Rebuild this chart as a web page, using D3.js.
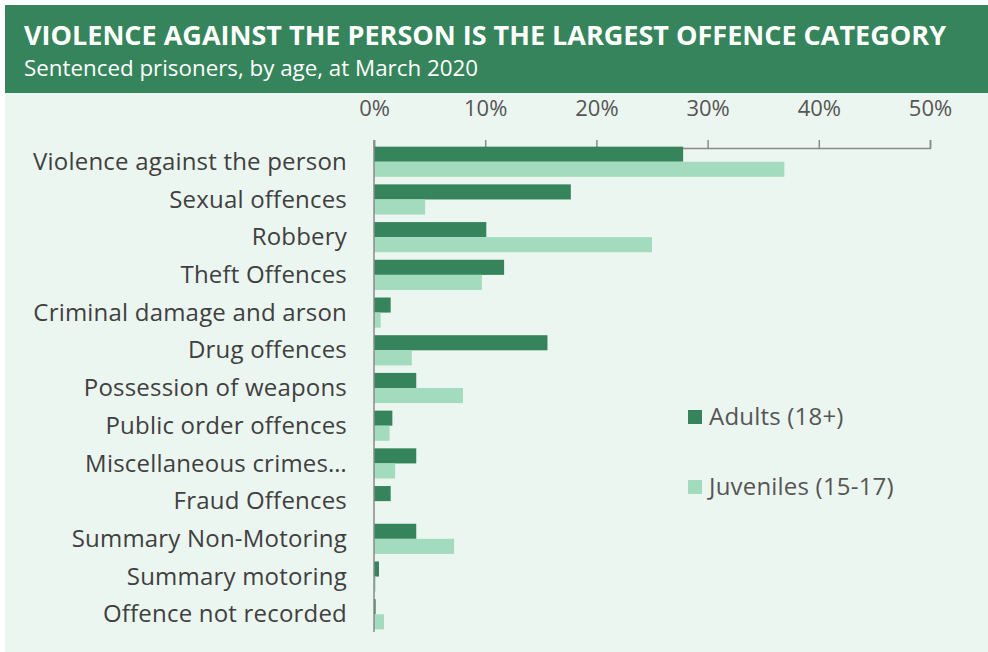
<!DOCTYPE html>
<html><head><meta charset="utf-8">
<script src="https://cdn.jsdelivr.net/npm/d3@7"></script>
<style>body{margin:0;background:#fff;}svg{display:block;}</style>
</head><body>
<svg id="chart" width="988" height="652"></svg>
<script>
const categories = ["Violence against the person","Sexual offences","Robbery","Theft Offences","Criminal damage and arson","Drug offences","Possession of weapons","Public order offences","Miscellaneous crimes…","Fraud Offences","Summary Non-Motoring","Summary motoring","Offence not recorded"];
const adults =    [27.8, 17.7, 10.1, 11.7, 1.5, 15.6, 3.8, 1.65, 3.8, 1.5, 3.8, 0.45, 0.15];
const juveniles = [36.9, 4.6, 25.0, 9.7, 0.6, 3.4, 8.0, 1.4, 1.9, 0.0, 7.2, 0.15, 0.9];
const seriesNames = ["Adults (18+)", "Juveniles (15-17)"];
const tickValues = [0, 10, 20, 30, 40, 50];
const title = "VIOLENCE AGAINST THE PERSON IS THE LARGEST OFFENCE CATEGORY";
const subtitle = "Sentenced prisoners, by age, at March 2020";

const colors = ["#36845B", "#A3DBBF"];
const svg = d3.select("#chart");
const font = "'Open Sans', 'Noto Sans', sans-serif";

svg.append("rect").attr("x",5).attr("y",92).attr("width",983).attr("height",560).attr("fill","#ECF6F0");
svg.append("rect").attr("x",5).attr("y",5).attr("width",983).attr("height",88).attr("fill","#36845B");
svg.append("text").attr("x",24).attr("y",44.5).attr("fill","#fff").attr("font-family",font)
  .attr("font-weight",700).attr("font-size",26).attr("textLength",922).attr("lengthAdjust","spacingAndGlyphs").text(title);
svg.append("text").attr("x",24).attr("y",76).attr("fill","#fff").attr("font-family",font)
  .attr("font-size",21).attr("textLength",454).attr("lengthAdjust","spacingAndGlyphs").text(subtitle);

const x = d3.scaleLinear().domain([0,50]).range([374,930]);
const y = d3.scaleBand().domain(categories).range([141,635]).paddingInner(0.2).paddingOuter(0.15);
const ySub = d3.scaleBand().domain([0,1]).range([0,y.bandwidth()]);

// axis
const axis = d3.axisTop(x).tickValues(tickValues).tickFormat(d => d + "%").tickSize(8).tickPadding(24);
const ag = svg.append("g").attr("transform","translate(0,148)").call(axis);
ag.select(".domain").attr("stroke","#8a8a8a").attr("stroke-width",1.5);
ag.selectAll(".tick line").attr("stroke","#8a8a8a").attr("stroke-width",1.5);
ag.selectAll(".tick text").attr("fill","#555").attr("font-family",font).attr("font-size",22);

// bars
const data = categories.map((c,i)=>({c, vals:[adults[i], juveniles[i]]}));
const groups = svg.append("g").selectAll("g").data(data).join("g")
  .attr("transform", d => `translate(0,${y(d.c)})`);
groups.selectAll("rect").data(d => d.vals.map((v,k)=>({v,k}))).join("rect")
  .attr("x", x(0)).attr("y", d => ySub(d.k)).attr("height", ySub.bandwidth())
  .attr("width", d => x(d.v) - x(0)).attr("fill", d => colors[d.k]);

// vertical axis line
svg.append("line").attr("x1",x(0)).attr("x2",x(0)).attr("y1",140).attr("y2",632)
  .attr("stroke","#8a8a8a").attr("stroke-width",1.5);

// category labels
svg.append("g").selectAll("text").data(categories).join("text")
  .attr("x",347).attr("y", d => y(d) + y.bandwidth()/2).attr("dy","0.34em")
  .attr("text-anchor","end").attr("fill","#404040").attr("font-family",font).attr("font-size",24)
  .attr("letter-spacing",0.2)
  .text(d => d);

// legend
const lg = svg.append("g").selectAll("g").data(seriesNames).join("g")
  .attr("transform",(d,i)=>`translate(688,${410 + i*70})`);
lg.append("rect").attr("width",14).attr("height",14).attr("fill",(d,i)=>colors[i]);
lg.append("text").attr("x",21).attr("y",15).attr("fill","#555").attr("font-family",font).attr("font-size",24)
  .attr("letter-spacing",0.2).text(d=>d);
</script>
</body></html>
